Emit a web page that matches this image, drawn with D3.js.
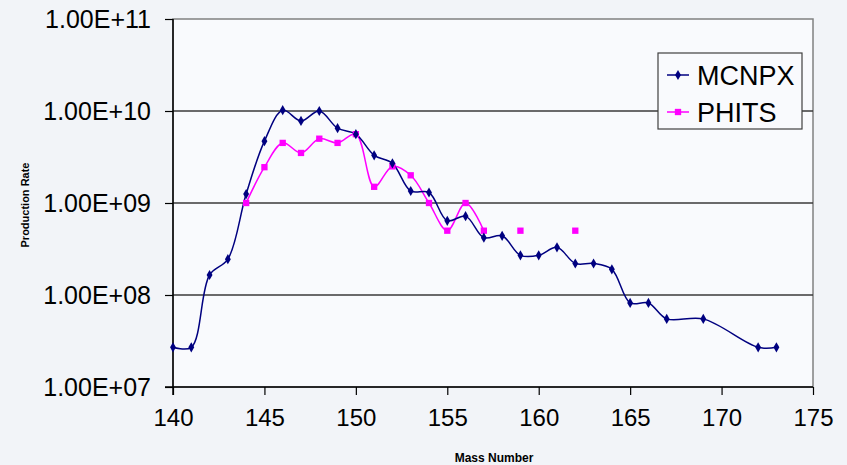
<!DOCTYPE html>
<html><head><meta charset="utf-8">
<script src="https://cdn.jsdelivr.net/npm/d3@7"></script>
<style>
html,body{margin:0;padding:0;background:#f2f4f8;}
svg{display:block;font-family:"Liberation Sans",Arial,sans-serif;}
</style></head>
<body>
<svg id="chart" width="847" height="465"></svg>
<script>
// ---- data ----
const mcnpxMass = [140,141,142,143,144,145,146,147,148,149,150,151,152,153,154,155,156,157,158,159,160,161,162,163,164,165,166,167,169,172,173];
const mcnpxRate = [2.7e7,2.7e7,1.65e8,2.45e8,1.25e9,4.7e9,1.02e10,7.8e9,1.0e10,6.5e9,5.6e9,3.3e9,2.7e9,1.35e9,1.3e9,6.4e8,7.2e8,4.2e8,4.4e8,2.7e8,2.7e8,3.3e8,2.2e8,2.2e8,1.9e8,8.2e7,8.2e7,5.5e7,5.5e7,2.7e7,2.7e7];
const phitsMass = [144,145,146,147,148,149,150,151,152,153,154,155,156,157,158,159,160,161,162];
const phitsRate = [1.0e9,2.45e9,4.5e9,3.5e9,5.0e9,4.5e9,5.6e9,1.5e9,2.5e9,2.0e9,1.0e9,5.0e8,1.0e9,5.0e8,null,5.0e8,null,null,5.0e8];
const xTicks = [140,145,150,155,160,165,170,175];
const yTicks = [1e7,1e8,1e9,1e10,1e11];
const yTickLabels = ["1.00E+07","1.00E+08","1.00E+09","1.00E+10","1.00E+11"];
const seriesNames = ["MCNPX","PHITS"];
const seriesColors = ["#000080","#ff00ff"];

// ---- layout ----
const svg = d3.select("#chart");
const L = 173, R = 813, T = 19, B = 387;
const x = d3.scaleLinear().domain([140,175]).range([L,R]);
const y = d3.scaleLog().domain([1e7,1e11]).range([B,T]);

svg.append("rect").attr("width",847).attr("height",465).attr("fill","#f2f4f8");
svg.append("rect").attr("x",L).attr("y",T).attr("width",R-L).attr("height",B-T)
  .attr("fill","#f9fafd").attr("stroke","#808080").attr("stroke-width",1.5);

// gridlines
svg.append("g").selectAll("line").data(yTicks.slice(1,4)).join("line")
  .attr("x1",L).attr("x2",R).attr("y1",d=>y(d)).attr("y2",d=>y(d))
  .attr("stroke","#3a3a3a").attr("stroke-width",1.5);

// axes
const yAxis = d3.axisLeft(y).tickValues(yTicks).tickSize(8)
  .tickFormat((d,i)=>yTickLabels[i]).tickPadding(14);
const gy = svg.append("g").attr("transform",`translate(${L},0)`).call(yAxis);
gy.select(".domain").attr("stroke","#000").attr("stroke-width",1.5).attr("d",`M0,${T}V${B+8}`);
gy.selectAll(".tick line").attr("stroke","#000").attr("stroke-width",1.2);
gy.selectAll(".tick text").attr("font-size",25).attr("fill","#000")
  .attr("font-family","Liberation Sans, Arial, sans-serif");

const xAxis = d3.axisBottom(x).tickValues(xTicks).tickSize(8).tickFormat(d3.format("d")).tickPadding(14);
const gx = svg.append("g").attr("transform",`translate(0,${B})`).call(xAxis);
gx.select(".domain").attr("stroke","#000").attr("stroke-width",1.5).attr("d",`M${L-8},0H${R}`);
gx.selectAll(".tick line").attr("stroke","#000").attr("stroke-width",1.2);
gx.selectAll(".tick text").attr("font-size",24).attr("fill","#000")
  .attr("font-family","Liberation Sans, Arial, sans-serif");

// axis titles
svg.append("text").attr("transform","translate(29,205) rotate(-90)")
  .attr("text-anchor","middle").attr("font-size",11).attr("font-weight","bold").text("Production Rate");
svg.append("text").attr("x",494).attr("y",462)
  .attr("text-anchor","middle").attr("font-size",12).attr("font-weight","bold").text("Mass Number");

// series
const curve = d3.curveCatmullRom.alpha(0.5);
const mData = mcnpxMass.map((m,i)=>({m, v:mcnpxRate[i]}));
const pData = phitsMass.map((m,i)=>({m, v:phitsRate[i]}));
const line = d3.line().defined(d=>d.v!=null).x(d=>x(d.m)).y(d=>y(d.v)).curve(curve);

svg.append("path").datum(pData).attr("d",line).attr("fill","none")
  .attr("stroke",seriesColors[1]).attr("stroke-width",1.5);
svg.append("path").datum(mData).attr("d",line).attr("fill","none")
  .attr("stroke",seriesColors[0]).attr("stroke-width",1.5);

const diamond = d3.symbol().type(d3.symbolDiamond).size(30);
const square = d3.symbol().type(d3.symbolSquare).size(40);
svg.append("g").selectAll("path").data(pData.filter(d=>d.v!=null)).join("path")
  .attr("d",square).attr("transform",d=>`translate(${x(d.m)},${y(d.v)})`).attr("fill",seriesColors[1]);
svg.append("g").selectAll("path").data(mData).join("path")
  .attr("d",diamond).attr("transform",d=>`translate(${x(d.m)},${y(d.v)})`).attr("fill",seriesColors[0]);

// legend
const lg = svg.append("g");
lg.append("rect").attr("x",658).attr("y",53).attr("width",144).attr("height",76)
  .attr("fill","#f9fafd").attr("stroke","#404040").attr("stroke-width",1.2);
const rows = [75,112];
const syms = [diamond, square];
seriesNames.forEach((n,i)=>{
  lg.append("line").attr("x1",667).attr("x2",689).attr("y1",rows[i]).attr("y2",rows[i])
    .attr("stroke",seriesColors[i]).attr("stroke-width",1.5);
  lg.append("path").attr("d",syms[i]).attr("transform",`translate(678,${rows[i]})`).attr("fill",seriesColors[i]);
  lg.append("text").attr("x",697).attr("y",rows[i]).attr("dy","0.36em")
    .attr("font-size",27).attr("fill","#000").text(n);
});
</script>
</body></html>
